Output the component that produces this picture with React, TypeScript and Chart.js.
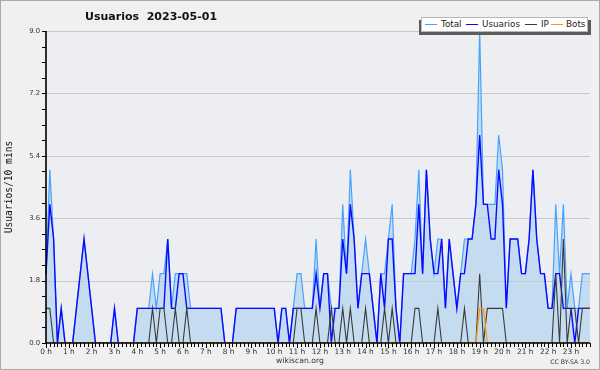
import React, { useEffect, useRef } from "react";
import { Chart, registerables } from "chart.js";

Chart.register(...registerables);

// ---- data (10-minute slots, 0:00 .. 23:50) ----
const HOUR_LABELS = [
  "0 h", "1 h", "2 h", "3 h", "4 h", "5 h", "6 h", "7 h", "8 h", "9 h", "10 h", "11 h",
  "12 h", "13 h", "14 h", "15 h", "16 h", "17 h", "18 h", "19 h", "20 h", "21 h", "22 h", "23 h",
];
const SLOT_LABELS = Array.from({ length: 144 }, (_, i) =>
  `${String(Math.floor(i / 6)).padStart(2, "0")}:${i % 6}0`
);

const TOTAL = [
  2, 5, 3, 0, 1, 0, 0, 0, 1, 2, 3, 2, 1, 0, 0, 0, 0, 0, 1, 0, 0, 0, 0, 0,
  1, 1, 1, 1, 2, 1, 2, 2, 3, 1, 2, 2, 2, 2, 1, 1, 1, 1, 1, 1, 1, 1, 1, 0,
  0, 0, 1, 1, 1, 1, 1, 1, 1, 1, 1, 1, 1, 0, 1, 1, 0, 1, 2, 2, 1, 1, 1, 3,
  1, 2, 2, 1, 1, 1, 4, 2, 5, 3, 1, 2, 3, 2, 1, 0, 2, 2, 3, 4, 1, 0, 2, 2,
  2, 3, 5, 2, 5, 3, 2, 3, 3, 1, 3, 2, 1, 2, 3, 3, 3, 4, 9, 4, 4, 4, 4, 6,
  5, 1, 3, 3, 3, 2, 2, 3, 5, 3, 2, 2, 1, 1, 4, 2, 4, 1, 2, 1, 1, 2, 2, 2,
];
const USUARIOS = [
  2, 4, 3, 0, 1, 0, 0, 0, 1, 2, 3, 2, 1, 0, 0, 0, 0, 0, 1, 0, 0, 0, 0, 0,
  1, 1, 1, 1, 1, 1, 1, 1, 3, 1, 1, 2, 2, 1, 1, 1, 1, 1, 1, 1, 1, 1, 1, 0,
  0, 0, 1, 1, 1, 1, 1, 1, 1, 1, 1, 1, 1, 0, 1, 1, 0, 1, 1, 1, 1, 1, 1, 2,
  1, 2, 2, 0, 1, 1, 3, 2, 4, 3, 1, 2, 2, 2, 1, 0, 2, 1, 3, 3, 1, 0, 2, 2,
  2, 2, 4, 2, 5, 3, 2, 2, 3, 1, 3, 2, 1, 2, 2, 3, 3, 4, 6, 4, 4, 3, 3, 5,
  4, 1, 3, 3, 3, 2, 2, 3, 5, 3, 2, 2, 1, 1, 2, 2, 1, 1, 1, 0, 1, 1, 1, 1,
];
const IP = [
  1, 1, 0, 0, 0, 0, 0, 0, 0, 0, 0, 0, 0, 0, 0, 0, 0, 0, 0, 0, 0, 0, 0, 0,
  0, 0, 0, 0, 1, 0, 1, 1, 0, 0, 1, 0, 0, 1, 0, 0, 0, 0, 0, 0, 0, 0, 0, 0,
  0, 0, 0, 0, 0, 0, 0, 0, 0, 0, 0, 0, 0, 0, 0, 0, 0, 0, 1, 1, 0, 0, 0, 1,
  0, 0, 0, 1, 0, 0, 1, 0, 1, 0, 0, 0, 1, 0, 0, 0, 0, 1, 0, 1, 0, 0, 0, 0,
  0, 1, 1, 0, 0, 0, 0, 1, 0, 0, 0, 0, 0, 0, 1, 0, 0, 0, 2, 0, 1, 1, 1, 1,
  1, 0, 0, 0, 0, 0, 0, 0, 0, 0, 0, 0, 0, 0, 2, 0, 3, 0, 1, 1, 0, 1, 1, 1,
];
const BOTS = [
  0, 0, 0, 0, 0, 0, 0, 0, 0, 0, 0, 0, 0, 0, 0, 0, 0, 0, 0, 0, 0, 0, 0, 0,
  0, 0, 0, 0, 0, 0, 0, 0, 0, 0, 0, 0, 0, 0, 0, 0, 0, 0, 0, 0, 0, 0, 0, 0,
  0, 0, 0, 0, 0, 0, 0, 0, 0, 0, 0, 0, 0, 0, 0, 0, 0, 0, 0, 0, 0, 0, 0, 0,
  0, 0, 0, 0, 0, 0, 0, 0, 0, 0, 0, 0, 0, 0, 0, 0, 0, 0, 0, 0, 0, 0, 0, 0,
  0, 0, 0, 0, 0, 0, 0, 0, 0, 0, 0, 0, 0, 0, 0, 0, 0, 0, 1, 1, 0, 0, 0, 0,
  0, 0, 0, 0, 0, 0, 0, 0, 0, 0, 0, 0, 0, 0, 0, 0, 0, 0, 0, 0, 0, 0, 0, 0,
];

const SERIES_NAMES = ["Total", "Usuarios", "IP", "Bots"];
const SERIES_COLORS = ["#45a3ff", "#0a0aff", "#3a3a3a", "#ff9a00"];
const Y_MAX = 9;
const Y_STEP = 1.8;
const Y_MINOR = 0.45;

const FONT = "'DejaVu Sans', Verdana, sans-serif";

const decor = {
  id: "decor",
  beforeDraw(chart: any) {
    const { ctx, chartArea: a } = chart;
    ctx.save();
    ctx.fillStyle = "#f0f0f0";
    ctx.fillRect(0, 0, chart.width, chart.height);
    ctx.fillStyle = "#eceef1";
    ctx.fillRect(a.left, a.top, a.right - a.left, a.bottom - a.top);
    ctx.strokeStyle = "#a9a9a9";
    ctx.lineWidth = 1;
    ctx.strokeRect(0.5, 0.5, chart.width - 1, chart.height - 1);
    ctx.restore();
  },
  beforeDatasetsDraw(chart: any) {
    const { ctx, chartArea: a } = chart;
    const y = chart.scales.y;
    ctx.save();
    ctx.strokeStyle = "#c8c9cc";
    ctx.lineWidth = 1;
    for (const t of y.ticks) {
      if (t.value <= 0) continue;
      const py = Math.round(y.getPixelForValue(t.value)) + 0.5;
      ctx.beginPath();
      ctx.moveTo(a.left, py);
      ctx.lineTo(a.right, py);
      ctx.stroke();
    }
    ctx.restore();
  },
  afterDatasetsDraw(chart: any) {
    const { ctx, chartArea: a } = chart;
    const x = chart.scales.x;
    const y = chart.scales.y;
    ctx.save();
    ctx.strokeStyle = "#000";
    ctx.lineWidth = 1;
    const nMinor = Math.round(Y_MAX / Y_MINOR);
    for (let k = 0; k <= nMinor; k++) {
      const py = Math.round(y.getPixelForValue(k * Y_MINOR)) + 0.5;
      ctx.beginPath();
      ctx.moveTo(a.left - 4, py);
      ctx.lineTo(a.left, py);
      ctx.stroke();
    }
    for (let i = 0; i < SLOT_LABELS.length; i++) {
      const px = Math.round(x.getPixelForValue(i)) + 0.5;
      ctx.beginPath();
      ctx.moveTo(px, a.bottom);
      ctx.lineTo(px, a.bottom + (i % 6 === 0 ? 5 : 4));
      ctx.stroke();
    }
    ctx.lineWidth = 1.6;
    ctx.beginPath();
    ctx.moveTo(a.left, a.top);
    ctx.lineTo(a.left, a.bottom);
    ctx.lineTo(a.right, a.bottom);
    ctx.stroke();
    ctx.restore();
  },
};

export default function App() {
  const ref = useRef<HTMLCanvasElement | null>(null);

  useEffect(() => {
    if (!ref.current) return;
    const chart = new Chart(ref.current, {
      type: "line",
      data: {
        labels: SLOT_LABELS,
        datasets: [
          {
            label: SERIES_NAMES[0],
            data: TOTAL,
            borderColor: SERIES_COLORS[0],
            backgroundColor: "#c5dcf0",
            borderWidth: 1.2,
            fill: "origin",
            order: 3,
          },
          {
            label: SERIES_NAMES[1],
            data: USUARIOS,
            borderColor: SERIES_COLORS[1],
            borderWidth: 1.4,
            fill: false,
            order: 2,
          },
          {
            label: SERIES_NAMES[2],
            data: IP,
            borderColor: SERIES_COLORS[2],
            borderWidth: 1.1,
            fill: false,
            order: 1,
          },
          {
            label: SERIES_NAMES[3],
            data: BOTS,
            borderColor: SERIES_COLORS[3],
            borderWidth: 1.3,
            fill: false,
            order: 0,
          },
        ],
      },
      options: {
        responsive: false,
        animation: false,
        devicePixelRatio: 1,
        events: [],
        elements: { point: { radius: 0 }, line: { tension: 0 } },
        layout: { padding: { top: 31, right: 10, bottom: 0, left: 0 } },
        plugins: {
          legend: { display: false },
          title: { display: false },
          tooltip: { enabled: false },
          filler: { drawTime: "beforeDatasetsDraw" },
        },
        scales: {
          x: {
            type: "category",
            offset: false,
            grid: { drawOnChartArea: false, drawTicks: true, tickLength: 5, tickColor: "rgba(0,0,0,0)" },
            border: { display: false },
            ticks: {
              autoSkip: false,
              maxRotation: 0,
              minRotation: 0,
              padding: 0,
              color: "#333",
              font: { family: FONT, size: 7.4 },
              callback: (_v: any, i: number) => (i % 6 === 0 ? HOUR_LABELS[i / 6] : ""),
            },
            afterFit: (s: any) => {
              s.height = 27;
            },
          },
          y: {
            min: 0,
            max: Y_MAX,
            grid: { drawOnChartArea: false, drawTicks: true, tickLength: 4, tickColor: "rgba(0,0,0,0)" },
            border: { display: false },
            ticks: {
              stepSize: Y_STEP,
              padding: 2,
              color: "#333",
              font: { family: FONT, size: 6.8 },
              callback: (v: any) => Number(v).toFixed(1),
            },
            title: {
              display: true,
              text: "Usuarios/10 mins",
              color: "#111",
              font: { family: "'DejaVu Sans Mono', monospace", size: 9.6 },
              padding: { top: 4, bottom: 0 },
            },
            afterFit: (s: any) => {
              s.width = 46;
            },
          },
        },
      },
      plugins: [decor],
    } as any);
    return () => chart.destroy();
  }, []);

  const legendItems = [
    { sw: 425, tx: 441 },
    { sw: 466, tx: 482 },
    { sw: 525, tx: 541 },
    { sw: 551, tx: 566 },
  ];

  return (
    <div style={{ position: "fixed", left: 0, top: 0, width: 600, height: 370, fontFamily: FONT }}>
      <canvas ref={ref} width={600} height={370} style={{ display: "block", width: 600, height: 370 }} />
      <div
        style={{
          position: "absolute", left: 85, top: 10, fontSize: 11, fontWeight: "bold",
          lineHeight: "14px", color: "#111", whiteSpace: "pre",
        }}
      >
        {"Usuarios  2023-05-01"}
      </div>
      <div style={{ position: "absolute", left: 419, top: 20, width: 172, height: 15, background: "#5c5c5c" }} />
      <div
        style={{
          position: "absolute", left: 421, top: 17, width: 167, height: 15,
          background: "#fff", border: "1px solid #b8b8b8", boxSizing: "border-box",
        }}
      />
      {SERIES_NAMES.map((name, k) => (
        <React.Fragment key={name}>
          <div
            style={{
              position: "absolute", left: legendItems[k].sw, top: 23.5, width: 12, height: 1.4,
              background: SERIES_COLORS[k],
            }}
          />
          <div
            style={{
              position: "absolute", left: legendItems[k].tx, top: 18, fontSize: 8.8,
              lineHeight: "12px", color: "#222", whiteSpace: "pre",
            }}
          >
            {name}
          </div>
        </React.Fragment>
      ))}
      <div
        style={{
          position: "absolute", left: 0, width: 600, top: 356, textAlign: "center",
          fontSize: 7.7, lineHeight: "10px", color: "#333",
        }}
      >
        wikiscan.org
      </div>
      <div
        style={{
          position: "absolute", right: 10, top: 358, fontSize: 6.2, lineHeight: "8px", color: "#333",
        }}
      >
        CC BY-SA 3.0
      </div>
    </div>
  );
}
